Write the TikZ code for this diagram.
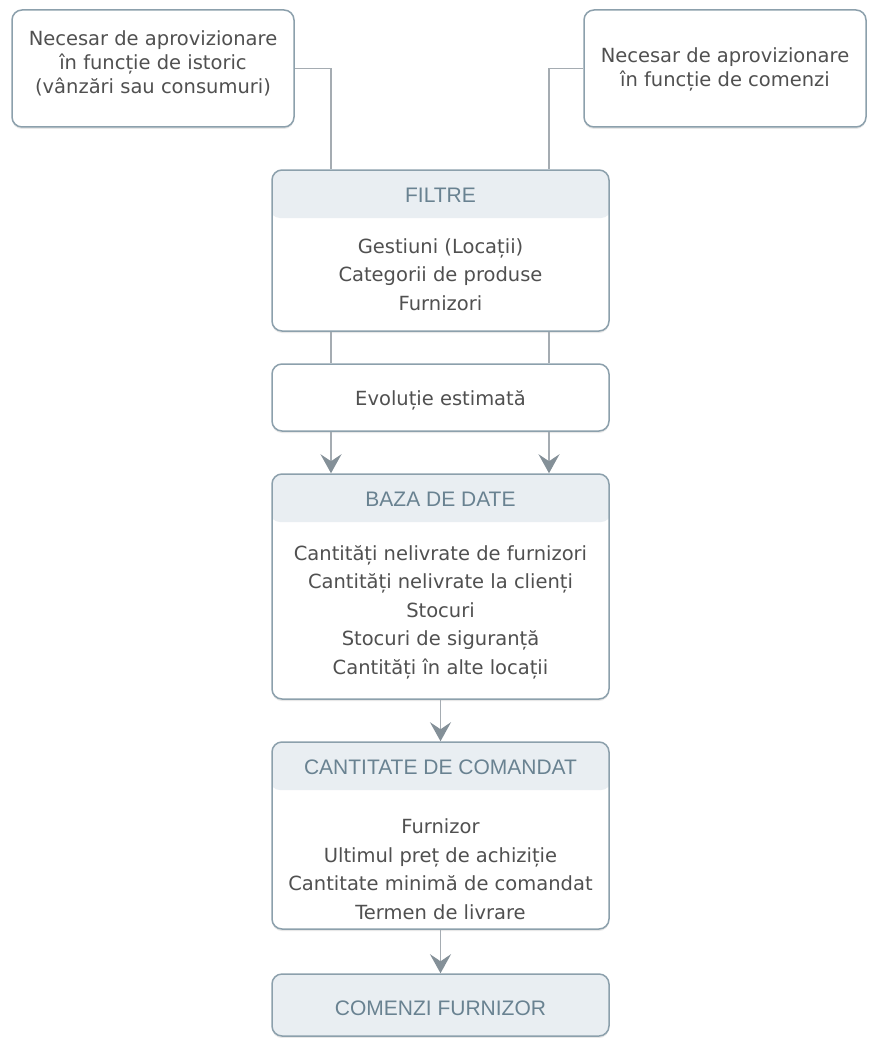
\documentclass[tikz,border=0pt]{standalone}
\usepackage{fontspec}
\setmainfont{Liberation Sans}
\newfontfamily\bodyfont{DejaVu Sans}
\usetikzlibrary{arrows.meta,positioning,calc,shadows}
\definecolor{framegray}{RGB}{140,160,172}
\definecolor{headfill}{RGB}{233,238,242}
\definecolor{headblue}{RGB}{105,130,145}
\definecolor{textgray}{RGB}{80,80,80}
\definecolor{linkgray}{RGB}{165,172,178}
\definecolor{tipgray}{RGB}{132,144,152}

\tikzset{
    panel/.style={draw=framegray, line width=1.5pt, rounded corners=10pt, fill=white,
        minimum width=337pt, inner sep=0pt,
        drop shadow={opacity=0.18, shadow xshift=0pt, shadow yshift=-2pt}},
    headpanel/.style={panel, path picture={\fill[headfill] ([xshift=-2pt,yshift=2pt]path picture bounding box.north west)
        rectangle ([xshift=2pt,yshift=-48pt]path picture bounding box.north east);}},
    headtext/.style={text=headblue, font=\fontsize{21}{24}\selectfont},
    bodytext/.style={text=textgray, align=center, font=\bodyfont\fontsize{19.5}{28.5}\selectfont},
    sourcetext/.style={bodytext, font=\bodyfont\fontsize{19.5}{24}\selectfont},
    link/.style={draw=linkgray, line width=1.5pt},
    flow/.style={link, -{Stealth[length=19pt,width=21pt,inset=7pt,color=tipgray]}}
}

\begin{document}
\begin{tikzpicture}[x=1pt, y=-1pt]
    \useasboundingbox (0,0) rectangle (871,1038);

    % two sources of demand
    \node[panel, minimum width=282pt, minimum height=117pt] (hist) at (153,68.5) {};
    \node[sourcetext] (histT) at (153,63) {Necesar de aprovizionare\\în funcție de istoric\\(vânzări sau consumuri)};
    \node[panel, minimum width=282pt, minimum height=117pt] (cmd) at (725,68.5) {};
    \node[sourcetext] (cmdT) at (725,69.5) {Necesar de aprovizionare\\în funcție de comenzi};

    % the two branches run down side by side
    \coordinate (jl) at (331,0);
    \coordinate (jr) at (549,0);

    % filters
    \node[headpanel, minimum height=161pt] (filtre) at (440.5,250.5) {};
    \node[headtext] (filtreH) at (440.5,195) {FILTRE};
    \node[bodytext] (filtreB) at (440.5,274.5) {Gestiuni (Locații)\\Categorii de produse\\Furnizori};

    % estimated trend
    \node[panel, minimum height=67pt] (evol) at (440.5,397.5) {};
    \node[bodytext] (evolT) at (440.5,400) {Evoluție estimată};

    % database
    \node[headpanel, minimum height=225pt] (baza) at (440.5,586.5) {};
    \node[headtext] (bazaH) at (440.5,499) {BAZA DE DATE};
    \node[bodytext] (bazaB) at (440.5,612) {Cantități nelivrate de furnizori\\Cantități nelivrate la clienți\\Stocuri\\Stocuri de siguranță\\Cantități în alte locații};

    % quantity to order
    \node[headpanel, minimum height=187pt] (cant) at (440.5,835.5) {};
    \node[headtext] (cantH) at (440.5,767) {CANTITATE DE COMANDAT};
    \node[bodytext] (cantB) at (440.5,869) {Furnizor\\Ultimul preț de achiziție\\Cantitate minimă de comandat\\Termen de livrare};

    % supplier orders
    \node[panel, fill=headfill, minimum height=62pt] (comenzi) at (440.5,1005) {};
    \node[headtext] (comenziT) at (440.5,1008) {COMENZI FURNIZOR};

    % connectors
    \draw[link] (hist.east) -| (jl |- filtre.north);
    \draw[link] (cmd.west) -| (jr |- filtre.north);
    \draw[link] (jl |- filtre.south) -- (jl |- evol.north);
    \draw[link] (jr |- filtre.south) -- (jr |- evol.north);
    \draw[flow] (jl |- evol.south) -- (jl |- baza.north);
    \draw[flow] (jr |- evol.south) -- (jr |- baza.north);
    \draw[flow] (baza.south) -- (cant.north);
    \draw[flow] (cant.south) -- (comenzi.north);
\end{tikzpicture}
\end{document}
